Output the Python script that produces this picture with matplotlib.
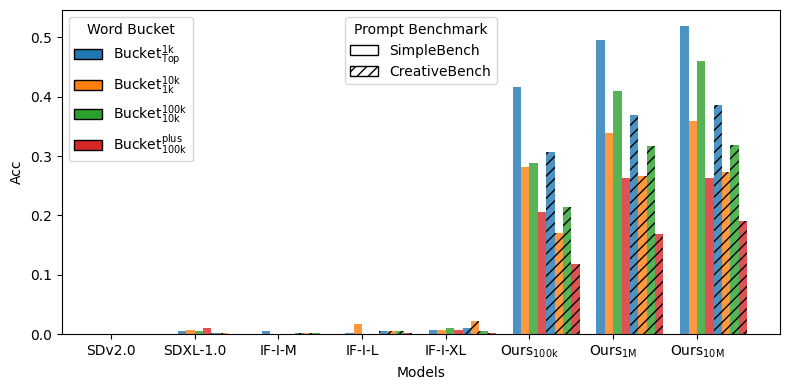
import numpy as np
import matplotlib
matplotlib.use("Agg")
import matplotlib.pyplot as plt
from matplotlib.patches import Patch

models = ["SDv2.0", "SDXL-1.0", "IF-I-M", "IF-I-L", "IF-I-XL",
          r"Ours$_{\mathrm{100k}}$", r"Ours$_{\mathrm{1M}}$", r"Ours$_{\mathrm{10M}}$"]
buckets = [r"Bucket$_{\mathrm{Top}}^{\mathrm{1k}}$", r"Bucket$_{\mathrm{1k}}^{\mathrm{10k}}$",
           r"Bucket$_{\mathrm{10k}}^{\mathrm{100k}}$", r"Bucket$_{\mathrm{100k}}^{\mathrm{plus}}$"]
benchmarks = ["SimpleBench", "CreativeBench"]

# SimpleBench values per bucket (rows) across models (cols)
simple_top1k = [0.0, 0.005, 0.006, 0.002, 0.007, 0.416, 0.495, 0.520]
simple_1k10k = [0.0, 0.007, 0.001, 0.017, 0.007, 0.282, 0.339, 0.359]
simple_10k100k = [0.0, 0.006, 0.001, 0.0, 0.010, 0.289, 0.409, 0.461]
simple_100kplus = [0.0, 0.011, 0.0, 0.0, 0.007, 0.206, 0.263, 0.263]

creative_top1k = [0.0, 0.002, 0.002, 0.006, 0.010, 0.307, 0.369, 0.386]
creative_1k10k = [0.0, 0.002, 0.002, 0.006, 0.022, 0.171, 0.267, 0.273]
creative_10k100k = [0.0, 0.0, 0.002, 0.005, 0.005, 0.215, 0.317, 0.319]
creative_100kplus = [0.0, 0.0, 0.0, 0.002, 0.002, 0.119, 0.169, 0.191]

simple = [simple_top1k, simple_1k10k, simple_10k100k, simple_100kplus]
creative = [creative_top1k, creative_1k10k, creative_10k100k, creative_100kplus]
colors = ["tab:blue", "tab:orange", "tab:green", "tab:red"]

fig, ax = plt.subplots(figsize=(7.9, 3.89), dpi=100)
fig.subplots_adjust(left=0.078, right=0.987, top=0.974, bottom=0.141)
x = np.arange(len(models))
w = 0.1
for i in range(4):
    ax.bar(x + (i - 1.5) * w, simple[i], w, color=colors[i], alpha=0.8)
for i in range(4):
    ax.bar(x + (i + 2.5) * w, creative[i], w, color=colors[i], alpha=0.8, hatch="///")

ax.set_xticks(x)
ax.set_xticklabels(models)
ax.set_xlabel("Models")
ax.set_ylabel("Acc")

h1 = [Patch(facecolor=c, edgecolor="black") for c in colors]
leg1 = ax.legend(h1, buckets, title="Word Bucket", loc="upper left")
ax.add_artist(leg1)
h2 = [Patch(facecolor="white", edgecolor="black"),
      Patch(facecolor="white", edgecolor="black", hatch="///")]
ax.legend(h2, benchmarks, title="Prompt Benchmark", loc="upper center")

fig.savefig("out.png")
